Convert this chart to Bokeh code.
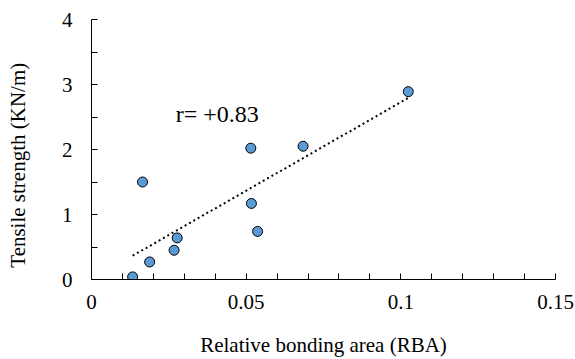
import numpy as np
from bokeh.plotting import figure
from bokeh.models import Range1d, FixedTicker, CustomJSTickFormatter, Label, ColumnDataSource
from bokeh.embed import file_html
from bokeh.resources import INLINE

# Data
rba = [0.0133, 0.0165, 0.0188, 0.0267, 0.0277, 0.0515, 0.0517, 0.0537, 0.0684, 0.1024]
tensile = [0.04, 1.50, 0.27, 0.45, 0.64, 2.02, 1.17, 0.74, 2.05, 2.89]

x_major_ticks = [0, 0.05, 0.10, 0.15]
x_minor_ticks = [0.01, 0.02, 0.03, 0.04, 0.06, 0.07, 0.08, 0.09, 0.11, 0.12, 0.13, 0.14]
y_major_ticks = [0, 1, 2, 3, 4]
y_minor_ticks = [0.5, 1.5, 2.5, 3.5]

x_title = "Relative bonding area (RBA)"
y_title = "Tensile strength (KN/m)"
r_text = "r= +0.83"

FONT = "'Liberation Serif', 'Times New Roman', serif"

p = figure(width=575, height=359, output_backend="svg", toolbar_location=None,
           x_range=Range1d(0, 0.15), y_range=Range1d(0, 4),
           min_border_left=91, min_border_top=19, min_border_right=20, min_border_bottom=80)
p.outline_line_color = None
p.grid.visible = False
p.background_fill_color = "white"
p.border_fill_color = "white"

for ax in p.xaxis + p.yaxis:
    ax.axis_line_color = "black"
    ax.axis_line_width = 1
    ax.major_tick_in = 6
    ax.major_tick_out = 0
    ax.minor_tick_in = 6
    ax.minor_tick_out = 0
    ax.major_tick_line_color = "black"
    ax.minor_tick_line_color = "black"
    ax.major_label_text_font = FONT
    ax.major_label_text_font_size = "21px"
    ax.major_label_text_color = "black"
    ax.axis_label_text_font = FONT
    ax.axis_label_text_font_size = "21px"
    ax.axis_label_text_font_style = "normal"
    ax.axis_label_text_color = "black"

p.xaxis.ticker = FixedTicker(ticks=x_major_ticks, minor_ticks=x_minor_ticks)
p.yaxis.ticker = FixedTicker(ticks=y_major_ticks, minor_ticks=y_minor_ticks)
p.xaxis.formatter = CustomJSTickFormatter(code="return String(Number(tick.toFixed(2)));")
p.xaxis.major_label_standoff = 15
p.yaxis.major_label_standoff = 19
p.xaxis.axis_label = x_title
p.xaxis.axis_label_standoff = 21
# trailing no-break spaces shift the centred title slightly down, as in the reference
p.yaxis.axis_label = y_title + "\u00a0" * 6
p.yaxis.axis_label_standoff = 29

# Linear trend line fitted to the data
slope, intercept = np.polyfit(rba, tensile, 1)
xs = [min(rba), max(rba)]
ys = [slope * v + intercept for v in xs]
p.line(xs, ys, line_color="black", line_width=2, line_dash="2 3")

src = ColumnDataSource(dict(x=rba, y=tensile))
p.scatter("x", "y", source=src, size=10, fill_color="#5B9BD5", line_color="black", line_width=1)

p.add_layout(Label(x=0.0272, y=2.54, text=r_text, text_font=FONT, text_font_size="24px",
                   text_color="black", text_baseline="alphabetic", text_align="left"))

open("out.html", "w").write(file_html(p, INLINE))
